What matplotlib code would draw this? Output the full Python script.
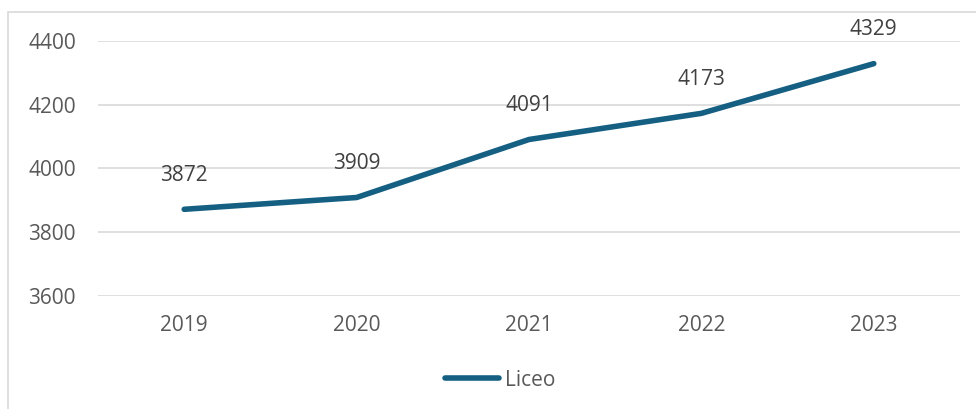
import matplotlib
matplotlib.use("Agg")
import matplotlib.pyplot as plt
from matplotlib.patches import Rectangle
from matplotlib.lines import Line2D

years = ["2019", "2020", "2021", "2022", "2023"]
liceo = [3872, 3909, 4091, 4173, 4329]
yticks = [3600, 3800, 4000, 4200, 4400]

plt.rcParams['font.family'] = ['Open Sans', 'DejaVu Sans']
TXT = '#595959'
LINE = '#156082'
GRID = '#D9D9D9'

W, H = 976, 409
fig = plt.figure(figsize=(W/100, H/100), dpi=100)

# outer chart border (partially cropped)
fig.patches.append(Rectangle((7.5/W, -0.1), 1.2, 1 - 12/H + 0.1, transform=fig.transFigure,
                             fill=False, edgecolor=GRID, linewidth=1.2))

ax = fig.add_axes([98/W, 1 - 296/H, (960-98)/W, (296-41)/H])
x = list(range(len(years)))
ax.plot(x, liceo, color=LINE, linewidth=4, solid_capstyle='round', zorder=3)
ax.set_xlim(-0.5, len(years) - 0.5)
ax.set_ylim(3600, 4400)
ax.set_yticks(yticks)
ax.set_xticks(x)
ax.set_xticklabels(years)
ax.grid(axis='y', color=GRID, linewidth=1.2)
ax.set_axisbelow(True)
for s in ax.spines.values():
    s.set_visible(False)
ax.tick_params(length=0, colors=TXT, labelsize=15)
ax.tick_params(axis='y', pad=16)
ax.tick_params(axis='x', pad=14)

for xi, v in zip(x, liceo):
    ax.annotate(str(v), (xi, v), xytext=(0, 17), textcoords='offset points',
                ha='center', va='bottom', fontsize=15, color='#404040', clip_on=False)

handle = Line2D([0], [0], color=LINE, linewidth=4, solid_capstyle='round')
fig.legend([handle], ['Liceo'], loc='center', bbox_to_anchor=(500/W, 1 - 380/H),
           frameon=False, fontsize=15, labelcolor=TXT, handlelength=2.6, handletextpad=0.3)

fig.savefig('out.png', dpi=100)
